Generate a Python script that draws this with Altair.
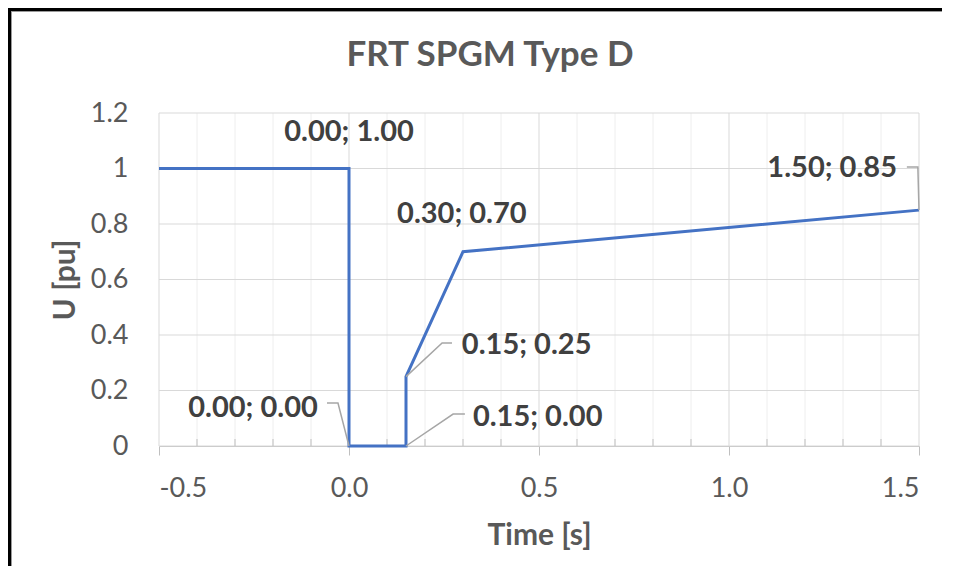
import altair as alt
import pandas as pd

# ---- data ----
chart_title = "FRT SPGM Type D"
time_s = [-0.5, 0.0, 0.0, 0.15, 0.15, 0.30, 1.50]
u_pu = [1.0, 1.0, 0.0, 0.0, 0.25, 0.70, 0.85]
labeled_idx = [1, 2, 3, 4, 5, 6]
x_major = [-0.5, 0.0, 0.5, 1.0, 1.5]
x_minor = [-0.4, -0.3, -0.2, -0.1, 0.1, 0.2, 0.3, 0.4,
           0.6, 0.7, 0.8, 0.9, 1.1, 1.2, 1.3, 1.4]
y_ticks = [0.0, 0.2, 0.4, 0.6, 0.8, 1.0, 1.2]

# ---- label layout (data coordinates of label anchors and leader elbows) ----
label_layout = {
    1: (0.0, 1.132, "center"),
    2: (-0.082, 0.137, "right"),
    3: (0.326, 0.105, "left"),
    4: (0.297, 0.364, "left"),
    5: (0.297, 0.836, "center"),
    6: (1.442, 1.002, "right"),
}
leader_elbows = {
    2: [(-0.058, 0.155), (-0.029, 0.155)],
    3: [(0.305, 0.115), (0.274, 0.115)],
    4: [(0.271, 0.371), (0.245, 0.371)],
    6: [(1.468, 1.005), (1.497, 1.005)],
}

W, H = 760, 333
PAD = {"left": 151, "top": 105, "right": 23, "bottom": 120}
GREY_TXT = "#595959"
FONT = "Lato"

series = pd.DataFrame({"t": time_s, "u": u_pu, "i": list(range(len(time_s)))})

lab_rows = []
for k in labeled_idx:
    lx, ly, al = label_layout[k]
    lab_rows.append({"lx": lx, "ly": ly, "align": al,
                     "text": f"{time_s[k]:.2f}; {u_pu[k]:.2f}"})
labels = pd.DataFrame(lab_rows)

lead_rows = []
for k, pts in leader_elbows.items():
    seq = pts + [(time_s[k], u_pu[k])]
    for j, (a, b) in enumerate(seq):
        lead_rows.append({"g": k, "o": j, "t": a, "u": b})
leaders = pd.DataFrame(lead_rows)

xs = alt.Scale(domain=[-0.5, 1.5], nice=False, zero=False)
ys = alt.Scale(domain=[0, 1.2], nice=False, zero=False)

one = pd.DataFrame({"a": [0]})

minor_grid = alt.Chart(pd.DataFrame({"t": x_minor})).mark_rule(
    color="#eeeeee", strokeWidth=1
).encode(x=alt.X("t:Q", scale=xs))

h_grid = alt.Chart(pd.DataFrame({"u": y_ticks})).mark_rule(
    color="#d9d9d9", strokeWidth=1
).encode(y=alt.Y("u:Q", scale=ys))

major_grid = alt.Chart(pd.DataFrame({"t": x_major})).mark_rule(
    color="#d9d9d9", strokeWidth=1
).encode(x=alt.X("t:Q", scale=xs))

minor_ticks = alt.Chart(pd.DataFrame({"t": x_minor})).mark_rule(
    color="#bfbfbf", strokeWidth=1
).encode(x=alt.X("t:Q", scale=xs), y=alt.value(H - 7), y2=alt.value(H))

line = alt.Chart(series).mark_line(color="#4472C4", strokeWidth=3).encode(
    x=alt.X("t:Q", scale=xs,
            axis=alt.Axis(values=x_major,
                          labelExpr="replace(format(datum.value, '.1f'), '\u2212', '-')",
                          title="Time [s]",
                          grid=False, domainColor="#bfbfbf", tickColor="#bfbfbf",
                          tickSize=9, labelPadding=20, titlePadding=19)),
    y=alt.Y("u:Q", scale=ys,
            axis=alt.Axis(values=y_ticks, labelExpr="format(datum.value, '.1~f')",
                          title="U [pu]", grid=False, domain=False, ticks=False,
                          labelPadding=31, titlePadding=10)),
    order=alt.Order("i:Q"),
)

leader = alt.Chart(leaders).mark_line(color="#a6a6a6", strokeWidth=1.5).encode(
    x=alt.X("t:Q", scale=xs), y=alt.Y("u:Q", scale=ys),
    detail="g:N", order=alt.Order("o:Q"),
)


def text_layer(al):
    return alt.Chart(labels).transform_filter(
        alt.datum.align == al
    ).mark_text(
        align=al, baseline="middle", font=FONT, fontWeight="bold",
        fontSize=29, color="#404040"
    ).encode(x=alt.X("lx:Q", scale=xs), y=alt.Y("ly:Q", scale=ys), text="text:N")


title_mark = alt.Chart(pd.DataFrame({"title": [chart_title]})).mark_text(
    align="center", baseline="middle", font=FONT, fontWeight="bold",
    fontSize=35, color=GREY_TXT
).encode(x=alt.value(331), y=alt.value(-58), text="title:N")

frame_top = alt.Chart(one).mark_rule(color="black", strokeWidth=3).encode(
    x=alt.value(-PAD["left"]), x2=alt.value(W + PAD["right"]), y=alt.value(-PAD["top"] + 1.5)
)
frame_top2 = alt.Chart(one).mark_rule(color="#9a9a9a", strokeWidth=1).encode(
    x=alt.value(-PAD["left"] + 3), x2=alt.value(W + PAD["right"]), y=alt.value(-PAD["top"] + 3.5)
)
frame_left = alt.Chart(one).mark_rule(color="black", strokeWidth=3).encode(
    x=alt.value(-PAD["left"] + 1.5), y=alt.value(-PAD["top"]), y2=alt.value(H + PAD["bottom"])
)
frame_left2 = alt.Chart(one).mark_rule(color="#9a9a9a", strokeWidth=1).encode(
    x=alt.value(-PAD["left"] + 3.5), y=alt.value(-PAD["top"] + 3), y2=alt.value(H + PAD["bottom"])
)

chart = alt.layer(
    minor_grid, h_grid, major_grid, minor_ticks, line, leader,
    text_layer("center"), text_layer("left"), text_layer("right"),
    title_mark, frame_top, frame_top2, frame_left, frame_left2,
).properties(
    width=W, height=H,
    autosize=alt.AutoSizeParams(type="none"),
    padding=PAD,
).configure_view(stroke=None).configure_axis(
    labelFont=FONT, labelFontSize=27, labelColor=GREY_TXT,
    titleFont=FONT, titleFontSize=30, titleFontWeight="bold", titleColor=GREY_TXT,
)

chart.save("out.html", embed_options={"renderer": "svg", "actions": False})
